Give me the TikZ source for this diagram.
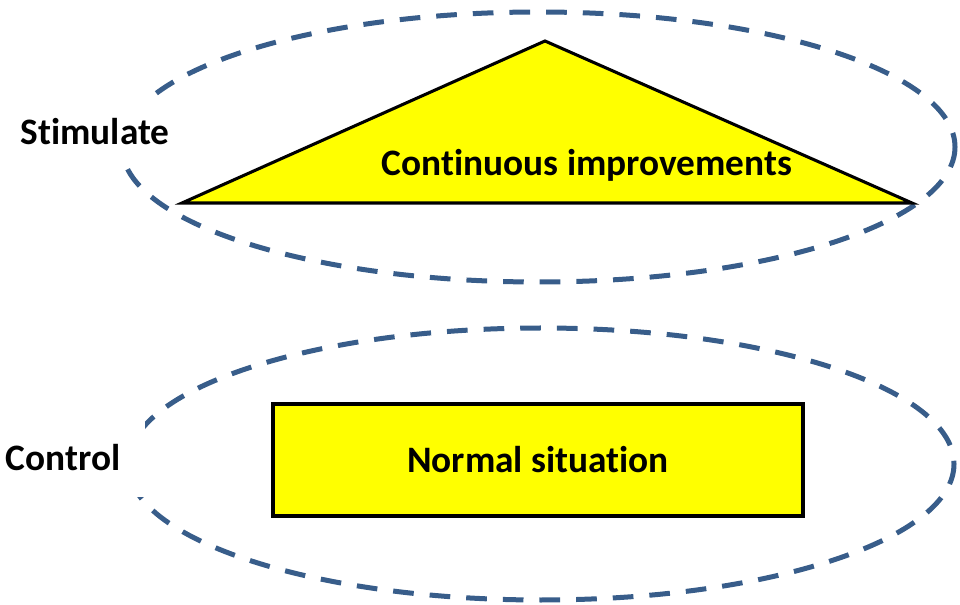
\documentclass[tikz,border=0pt]{standalone}
\usepackage{fontspec}
\setmainfont{Carlito}[Ligatures={NoCommon}]
\usepackage{xcolor}

\definecolor{ringblue}{RGB}{56,93,138}
\definecolor{boxyellow}{RGB}{255,255,0}

\tikzset{
  ring/.style={draw=ringblue, line width=3.75pt, dash pattern=on 15.5pt off 12pt},
  shapeline/.style={draw=black, line width=2.3pt, fill=boxyellow},
  bigtext/.style={font=\fontsize{28}{32}\selectfont\bfseries, align=center},
  sidelabel/.style={bigtext, fill=white, inner sep=0pt}
}

\begin{document}
\begin{tikzpicture}[x=0.75pt,y=0.75pt,yscale=-1,xscale=1]
\useasboundingbox (0,0) rectangle (960,605);

%Shape: Ellipse [upper ring]
\draw [ring] (538.5,147) ellipse (416.5 and 135);
%Shape: Ellipse [lower ring]
\draw [ring] (541,464) ellipse (413 and 136);

%Shape: Triangle
\coordinate (apex) at (545,41);
\coordinate (baseL) at (182,203);
\coordinate (baseR) at (912,203);
\draw [shapeline, line join=miter] (apex) -- (baseR) -- (baseL) -- cycle;

%Shape: Rectangle
\node [shapeline, minimum width=530*0.75pt, minimum height=112*0.75pt, inner sep=0pt] (normal) at (538,460) {};

% Text Node
\node [bigtext] (improve) at (587,165) {Continuous improvements};
% Text Node
\node [bigtext] (normtext) at (normal.center) {Normal situation};
% Text Node
\node [sidelabel, minimum width=152*0.75pt, minimum height=66*0.75pt] (stim) at (95,132) {Stimulate};
% Text Node
\node [sidelabel, minimum width=164*0.75pt, minimum height=78*0.75pt] (ctrl) at (63,458) {Control};

\end{tikzpicture}
\end{document}
